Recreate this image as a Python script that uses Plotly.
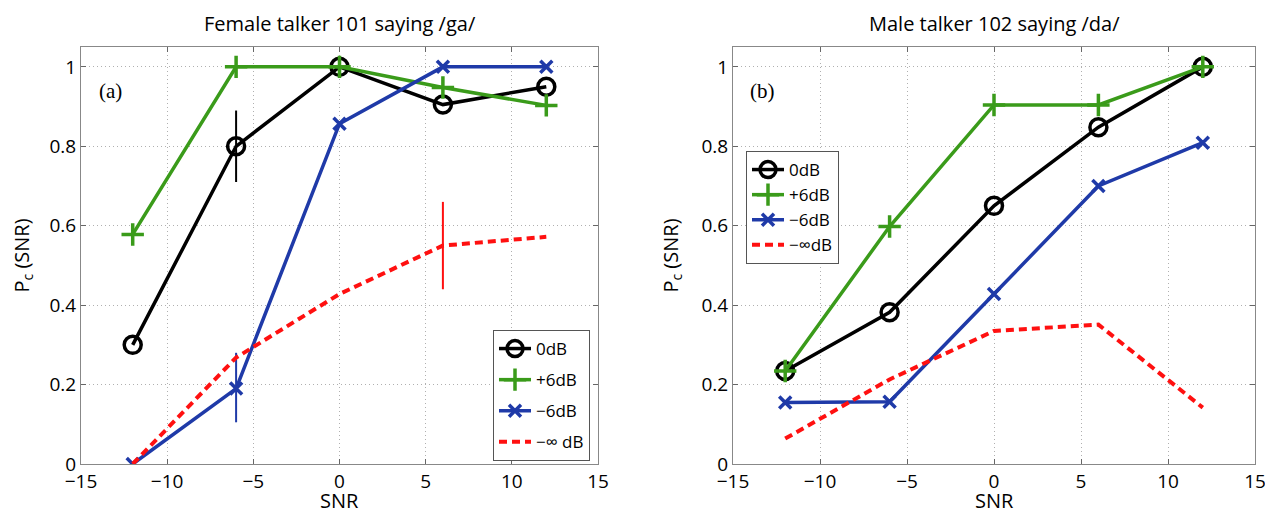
import plotly.graph_objects as go

snr = [-12, -6, 0, 6, 12]

# Panel (a): Female talker 101 saying /ga/
a_0db = [0.30, 0.80, 1.00, 0.905, 0.95]
a_p6db = [0.578, 1.00, 1.00, 0.948, 0.903]
a_m6db = [0.00, 0.19, 0.857, 1.00, 1.00]
a_minf = [0.00, 0.268, 0.428, 0.55, 0.572]
a_0db_err_up = [0, 0.09, 0, 0, 0]
a_0db_err_dn = [0, 0.09, 0, 0, 0]
a_m6db_err_up = [0, 0.09, 0, 0, 0]
a_m6db_err_dn = [0, 0.085, 0, 0, 0]
a_minf_err_up = [0, 0, 0, 0.11, 0]
a_minf_err_dn = [0, 0, 0, 0.11, 0]

# Panel (b): Male talker 102 saying /da/
b_0db = [0.234, 0.382, 0.65, 0.848, 1.00]
b_p6db = [0.234, 0.598, 0.904, 0.904, 1.00]
b_m6db = [0.155, 0.157, 0.428, 0.70, 0.809]
b_minf = [0.064, 0.213, 0.335, 0.351, 0.142]

titles = ["Female talker 101 saying /ga/", "Male talker 102 saying /da/"]
panel_labels = ["(a)", "(b)"]
x_label = "SNR"
y_label = "P<sub>c</sub> (SNR)"
names_a = ["0dB", "+6dB", "−6dB", "−∞ dB"]
names_b = ["0dB", "+6dB", "−6dB", "−∞dB"]
xticks = [-15, -10, -5, 0, 5, 10, 15]
yticks = [0, 0.2, 0.4, 0.6, 0.8, 1]

BLACK = "#000000"
GREEN = "#3a9b1a"
BLUE = "#1f3aa8"
RED = "#ff1010"

fig = go.Figure()

def add_series(xa, ya, vals, name, color, kind, legend, group, err=None):
    line = dict(color=color, width=3.5)
    mode = "lines+markers"
    marker = None
    if kind == "circle":
        marker = dict(symbol="circle-open", size=17, color=color, line=dict(width=3.5, color=color))
    elif kind == "plus":
        marker = dict(symbol="cross-thin", size=16, color=color, line=dict(width=3.5, color=color))
    elif kind == "x":
        marker = dict(symbol="x-thin", size=12, color=color, line=dict(width=3.5, color=color))
    else:
        mode = "lines"
        line = dict(color=color, width=4, dash="8px,5px")
    tr = dict(x=snr, y=vals, name=name, mode=mode, line=line, xaxis=xa, yaxis=ya,
              legend=legend, legendgroup=group, showlegend=True)
    if marker is not None:
        tr["marker"] = marker
    if err is not None:
        tr["error_y"] = dict(type="data", symmetric=False, array=err[0], arrayminus=err[1],
                             color=color, thickness=2, width=0)
    fig.add_trace(go.Scatter(**tr))

add_series("x", "y", a_0db, names_a[0], BLACK, "circle", "legend", "a0", (a_0db_err_up, a_0db_err_dn))
add_series("x", "y", a_p6db, names_a[1], GREEN, "plus", "legend", "a1")
add_series("x", "y", a_m6db, names_a[2], BLUE, "x", "legend", "a2", (a_m6db_err_up, a_m6db_err_dn))
add_series("x", "y", a_minf, names_a[3], RED, "dash", "legend", "a3", (a_minf_err_up, a_minf_err_dn))

add_series("x2", "y2", b_0db, names_b[0], BLACK, "circle", "legend2", "b0")
add_series("x2", "y2", b_p6db, names_b[1], GREEN, "plus", "legend2", "b1")
add_series("x2", "y2", b_m6db, names_b[2], BLUE, "x", "legend2", "b2")
add_series("x2", "y2", b_minf, names_b[3], RED, "dash", "legend2", "b3")

FONT = "Open Sans"
tickfont = dict(family=FONT, size=19, color="black")
ax_common = dict(showline=True, linecolor="#888888", linewidth=1, mirror="ticks",
                 ticks="inside", ticklen=5, tickcolor="#666666",
                 showgrid=True, gridcolor="#b0b0b0", griddash="1px,3px", gridwidth=1,
                 zeroline=False, tickfont=tickfont, automargin=False,
                 ticklabeloverflow="allow")

# page body has an 8px margin; figure coordinates are offset accordingly
OFF = 8
W, H = 1273 - OFF, 540
ML = 81 - OFF
MR = W - (1255 - OFF)
MT = 47 - OFF
MB = H - (464 - OFF)
PW = W - ML - MR
PH = H - MT - MB

def px_x(px):
    return (px - OFF - ML) / PW

def px_y(py):
    return (H - MB - (py - OFF)) / PH

xdom1 = [0, px_x(598)]
xdom2 = [px_x(733), 1]

ytitle = dict(text=y_label, font=dict(family=FONT, size=20), standoff=17)

def paper_text(text, x, y, size, family=FONT):
    return dict(text=text, x=x, y=y, xref="paper", yref="paper", showarrow=False,
                font=dict(family=family, size=size, color="black"),
                xanchor="center", yanchor="middle")

fig.update_layout(
    width=W, height=H,
    margin=dict(l=ML, r=MR, t=MT, b=MB),
    paper_bgcolor="white", plot_bgcolor="white",
    font=dict(family=FONT, size=18, color="black"),
    xaxis=dict(domain=xdom1, range=[-15, 15], tickvals=xticks, anchor="y", **ax_common),
    yaxis=dict(range=[0, 1.05], tickvals=yticks, anchor="x", title=ytitle, **ax_common),
    xaxis2=dict(domain=xdom2, range=[-15, 15], tickvals=xticks, anchor="y2", **ax_common),
    yaxis2=dict(range=[0, 1.05], tickvals=yticks, anchor="x2", title=ytitle, **ax_common),
    legend=dict(x=px_x(493), y=px_y(330), xanchor="left", yanchor="top",
                bgcolor="white", bordercolor="#555555", borderwidth=1,
                font=dict(family=FONT, size=17), tracegroupgap=6, itemwidth=32,
                traceorder="grouped"),
    legend2=dict(x=px_x(746), y=px_y(151), xanchor="left", yanchor="top",
                 bgcolor="white", bordercolor="#555555", borderwidth=1,
                 font=dict(family=FONT, size=17), tracegroupgap=0, itemwidth=32,
                 traceorder="grouped"),
    annotations=[
        paper_text(titles[0], (xdom1[0] + xdom1[1]) / 2, px_y(24), 20),
        paper_text(titles[1], (xdom2[0] + xdom2[1]) / 2, px_y(24), 20),
        paper_text(x_label, (xdom1[0] + xdom1[1]) / 2, px_y(501), 20),
        paper_text(x_label, (xdom2[0] + xdom2[1]) / 2, px_y(501), 20),
        dict(text=panel_labels[0], x=-13.3, y=0.94, xref="x", yref="y", showarrow=False,
             font=dict(family="Liberation Serif", size=21), xanchor="center", yanchor="middle"),
        dict(text=panel_labels[1], x=-13.3, y=0.94, xref="x2", yref="y2", showarrow=False,
             font=dict(family="Liberation Serif", size=21), xanchor="center", yanchor="middle"),
    ],
)

fig.write_html("out.html")
